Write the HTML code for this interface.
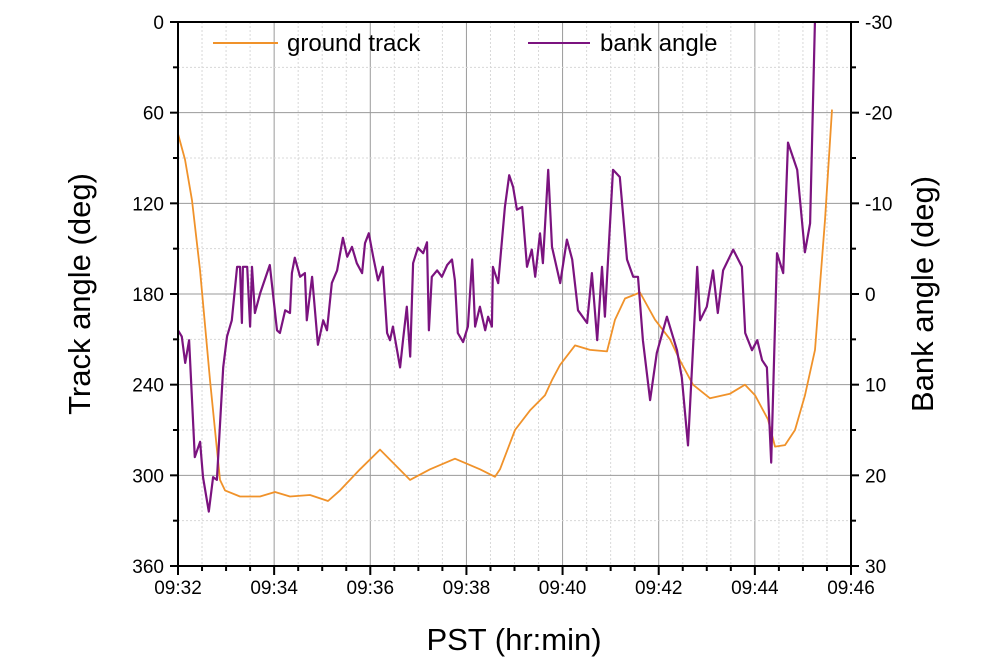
<!DOCTYPE html>
<html><head><meta charset="utf-8"><style>
html,body{margin:0;padding:0;background:#fff;}
svg{display:block;font-family:"Liberation Sans",Arial,sans-serif;}
</style></head><body>
<svg id="chart" width="988" height="671" viewBox="0 0 988 671">
<defs><clipPath id="clip"><rect x="178" y="22" width="673" height="544"/></clipPath></defs>
<g id="grid"></g>
<g id="series" clip-path="url(#clip)"></g>
<g id="axes"></g>
<g>
<line x1="213" y1="43" x2="278" y2="43" stroke="#f0922a" stroke-width="2"/>
<text x="287" y="51" font-size="24">ground track</text>
<line x1="528" y1="43" x2="590" y2="43" stroke="#7b137f" stroke-width="2"/>
<text x="600" y="51" font-size="24">bank angle</text>
</g>
<text x="514" y="650" font-size="31" text-anchor="middle">PST (hr:min)</text>
<text transform="translate(90,294) rotate(-90)" font-size="31" text-anchor="middle">Track angle (deg)</text>
<text transform="translate(933,294) rotate(-90)" font-size="31" text-anchor="middle">Bank angle (deg)</text>
</svg>
<script>
const xTickLabels=["09:32","09:34","09:36","09:38","09:40","09:42","09:44","09:46"];
const leftTicks=[0,60,120,180,240,300,360];
const rightTicks=[-30,-20,-10,0,10,20,30];
const trackTime=[0,0.146,0.291,0.458,0.666,0.874,0.978,1.29,1.706,2.018,2.33,2.746,3.12,3.37,3.786,4.202,4.514,4.826,5.242,5.762,6.282,6.594,6.698,7.01,7.323,7.635,7.78,7.947,8.259,8.571,8.925,9.091,9.299,9.611,9.923,10.235,10.443,10.713,11.067,11.483,11.795,12.003,12.274,12.419,12.627,12.835,13.043,13.251,13.459,13.605];
const trackAngle=[74,91,118,164,237,303,310,314,314,311,314,313,317,310,296,283,293,303,296,289,296,301,296,270,257,247,237,227,214,217,218,197,183,179,197,210,224,240,249,246,240,247,263,281,280,270,247,217,131,58];
const bankTime=[0,0.08,0.15,0.23,0.35,0.46,0.52,0.64,0.73,0.81,0.94,1.02,1.12,1.23,1.29,1.33,1.35,1.44,1.50,1.54,1.60,1.71,1.91,2.06,2.12,2.23,2.33,2.37,2.43,2.54,2.64,2.68,2.79,2.91,3.02,3.10,3.20,3.31,3.43,3.52,3.62,3.72,3.83,3.89,3.97,4.06,4.16,4.26,4.35,4.41,4.47,4.62,4.68,4.76,4.83,4.89,4.99,5.10,5.18,5.22,5.28,5.39,5.49,5.60,5.70,5.76,5.82,5.93,6.03,6.12,6.18,6.28,6.39,6.45,6.53,6.55,6.66,6.80,6.89,6.97,7.05,7.16,7.26,7.36,7.43,7.53,7.59,7.70,7.78,7.95,8.09,8.20,8.32,8.51,8.61,8.72,8.82,8.88,9.05,9.19,9.34,9.47,9.57,9.67,9.82,9.96,10.17,10.38,10.48,10.61,10.80,10.86,11.00,11.13,11.23,11.34,11.55,11.73,11.80,11.94,12.05,12.15,12.25,12.34,12.46,12.59,12.69,12.88,13.04,13.15,13.25,13.4];
const bankAngle=[4.0,4.7,7.6,5.1,18.0,16.3,20.2,24.0,20.2,20.5,8.1,4.7,2.9,-3.0,-3.0,3.2,-3.0,-3.0,3.6,-3.0,2.1,-0.1,-3.2,4.0,4.3,1.8,2.1,-2.3,-4.0,-1.9,-2.3,2.9,-1.9,5.6,2.9,4.0,-1.2,-2.6,-6.2,-4.1,-5.2,-3.4,-2.3,-5.6,-6.7,-4.1,-1.5,-3.0,4.3,5.1,3.6,8.1,5.1,1.4,6.9,-3.4,-5.1,-4.5,-5.7,4.0,-1.9,-2.6,-1.9,-3.2,-3.8,-1.5,4.3,5.3,3.6,-3.8,3.6,1.4,4.0,2.5,3.6,-3.0,-1.2,-9.6,-13.1,-11.8,-9.3,-9.6,-3.0,-4.9,-1.9,-6.7,-3.4,-13.7,-5.2,-1.2,-6.0,-3.8,1.8,3.2,-2.3,5.1,-3.0,2.5,-13.7,-12.9,-3.8,-1.9,-1.9,5.1,11.7,6.5,2.5,6.2,9.2,16.7,-3.0,2.9,1.4,-2.6,2.1,-2.6,-4.9,-3.0,4.3,6.2,5.1,7.3,8.1,18.6,-4.5,-2.3,-16.7,-13.7,-4.6,-7.8,-29.9,-34];
const L=178,R=851,T=22,B=566;
const xS=m=>L+m*(R-L)/14;
const yL=v=>T+v*(B-T)/360;
const yR=v=>T+(v+30)*(B-T)/60;
const NS="http://www.w3.org/2000/svg";
function mk(tag,attrs,parent){const e=document.createElementNS(NS,tag);for(const k in attrs)e.setAttribute(k,attrs[k]);parent.appendChild(e);return e;}
const grid=document.getElementById('grid'),axes=document.getElementById('axes'),series=document.getElementById('series');
for(let m=0.5;m<14;m+=0.5){const major=(m%2===0);
 const g=mk('line',{x1:xS(m),x2:xS(m),y1:T,y2:B,stroke:major?'#9a9a9a':'#d8d8d8','stroke-width':1,'stroke-dasharray':major?'none':'2,2'},grid);
 
 }
for(let v=30;v<360;v+=30){const major=(v%60===0);
 const g=mk('line',{x1:L,x2:R,y1:yL(v),y2:yL(v),stroke:major?'#9a9a9a':'#d8d8d8','stroke-width':1,'stroke-dasharray':major?'none':'2,2'},grid);
 
 }
const tp=trackTime.map((t,i)=>xS(t).toFixed(1)+','+yL(trackAngle[i]).toFixed(1)).join(' ');
const tl=mk('polyline',{points:tp,fill:'none',stroke:'#f0922a','stroke-width':1.8,'stroke-linejoin':'round'},series);


const bp=bankTime.map((t,i)=>xS(t).toFixed(1)+','+yR(bankAngle[i]).toFixed(1)).join(' ');
const bl=mk('polyline',{points:bp,fill:'none',stroke:'#7b137f','stroke-width':2.2,'stroke-linejoin':'round'},series);


mk('rect',{x:L,y:T,width:R-L,height:B-T,fill:'none',stroke:'#000','stroke-width':2},axes);
for(let m=0;m<=14;m+=0.5){const major=(m%2===0);mk('line',{x1:xS(m),x2:xS(m),y1:B,y2:B+(major?9:5),stroke:'#000','stroke-width':2},axes);}
xTickLabels.forEach((s,i)=>{const t=mk('text',{x:xS(i*2),y:B+28,'font-size':19,'text-anchor':'middle'},axes);t.textContent=s;
 
 });
for(let v=0;v<=360;v+=30){const major=(v%60===0);mk('line',{x1:L-(major?8:5),x2:L,y1:yL(v),y2:yL(v),stroke:'#000','stroke-width':2},axes);
 mk('line',{x1:R,x2:R+(major?8:5),y1:yL(v),y2:yL(v),stroke:'#000','stroke-width':2},axes);}
leftTicks.forEach(v=>{const t=mk('text',{x:L-14,y:yL(v)+7,'font-size':19,'text-anchor':'end'},axes);t.textContent=v;
 
 });
rightTicks.forEach(v=>{const t=mk('text',{x:R+14,y:yR(v)+7,'font-size':19,'text-anchor':'start'},axes);t.textContent=v;
 
 });
</script>
</body></html>
